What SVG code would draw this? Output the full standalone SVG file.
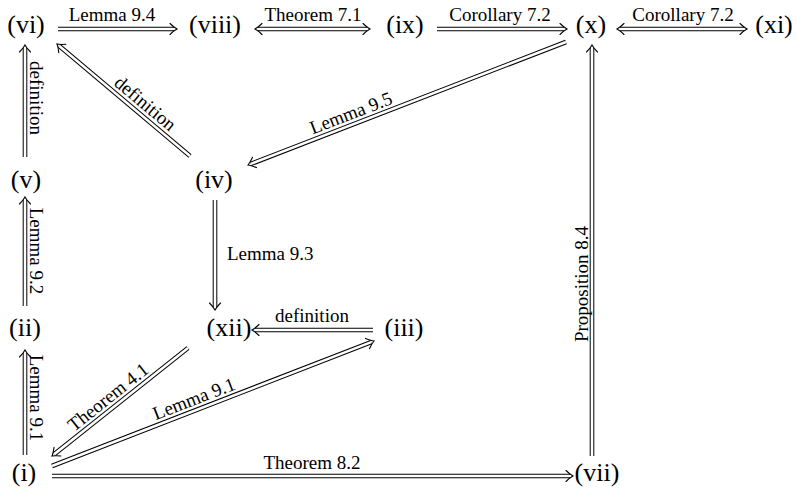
<svg xmlns="http://www.w3.org/2000/svg" xmlns:xlink="http://www.w3.org/1999/xlink" width="797" height="490" viewBox="0 0 797 490">
<style>
.nd{font-family:"Liberation Serif","Times New Roman",serif;font-size:26px;fill:#000;text-anchor:middle}
.lb{font-family:"Liberation Serif","Times New Roman",serif;font-size:19px;fill:#000;text-anchor:middle}
.sb{fill:none;stroke:#000;stroke-width:4.6}
.sw{fill:none;stroke:#fff;stroke-width:2.6}
.hd{fill:none;stroke:#000;stroke-width:1.1;stroke-linecap:round}
</style>
<defs>
<path id="ah" class="hd" d="M-7,-5.5 C-4,-2.6 -1.6,-0.8 0,0 C-1.6,0.8 -4,2.6 -7,5.5"/>
</defs>
<rect width="797" height="490" fill="#fff"/>
<g id="n-vi"><text class="nd" x="26" y="33">(vi)</text></g>
<g id="n-viii"><text class="nd" x="215" y="33">(viii)</text></g>
<g id="n-ix"><text class="nd" x="405" y="33">(ix)</text></g>
<g id="n-x"><text class="nd" x="591" y="33">(x)</text></g>
<g id="n-xi"><text class="nd" x="774" y="33">(xi)</text></g>
<g id="n-v"><text class="nd" x="26" y="188">(v)</text></g>
<g id="n-iv"><text class="nd" x="214" y="188">(iv)</text></g>
<g id="n-ii"><text class="nd" x="25" y="336">(ii)</text></g>
<g id="n-xii"><text class="nd" x="229" y="336">(xii)</text></g>
<g id="n-iii"><text class="nd" x="404" y="336">(iii)</text></g>
<g id="n-i"><text class="nd" x="24" y="481">(i)</text></g>
<g id="n-vii"><text class="nd" x="597" y="481">(vii)</text></g>
<g id="connectors">
<!-- vi -> viii -->
<g><path class="sb" d="M58,29H174"/><path class="sw" d="M58,29H174"/><use xlink:href="#ah" transform="translate(177,29)"/>
<text class="lb" x="112" y="21">Lemma 9.4</text></g>
<!-- viii <-> ix -->
<g><path class="sb" d="M258,29H367"/><path class="sw" d="M258,29H367"/><use xlink:href="#ah" transform="translate(370,29)"/><use xlink:href="#ah" transform="translate(255,29) rotate(180)"/>
<text class="lb" x="313" y="21">Theorem 7.1</text></g>
<!-- ix -> x -->
<g><path class="sb" d="M437,29H564"/><path class="sw" d="M437,29H564"/><use xlink:href="#ah" transform="translate(567,29)"/>
<text class="lb" x="500" y="21">Corollary 7.2</text></g>
<!-- x <-> xi -->
<g><path class="sb" d="M620,29H744"/><path class="sw" d="M620,29H744"/><use xlink:href="#ah" transform="translate(747,29)"/><use xlink:href="#ah" transform="translate(617,29) rotate(180)"/>
<text class="lb" x="683" y="21">Corollary 7.2</text></g>
<!-- x -> iv -->
<g><path class="sb" d="M566,42L250.8,163.9"/><path class="sw" d="M566,42L250.8,163.9"/><use xlink:href="#ah" transform="translate(248,165) rotate(158.86)"/>
<text class="lb" transform="translate(355,123.6) rotate(-21.14)" x="0" y="-5">Lemma 9.5</text></g>
<!-- iv -> vi -->
<g><path class="sb" d="M190,156L59.3,45.9"/><path class="sw" d="M190,156L59.3,45.9"/><use xlink:href="#ah" transform="translate(57,44) rotate(-139.9)"/>
<text class="lb" transform="translate(138,112) rotate(40.1)" x="0" y="-5">definition</text></g>
<!-- v -> vi -->
<g><path class="sb" d="M25,157V48"/><path class="sw" d="M25,157V48"/><use xlink:href="#ah" transform="translate(25,45) rotate(-90)"/>
<text class="lb" transform="translate(30,98) rotate(90)">definition</text></g>
<!-- ii -> v -->
<g><path class="sb" d="M25,306V200"/><path class="sw" d="M25,306V200"/><use xlink:href="#ah" transform="translate(25,197) rotate(-90)"/>
<text class="lb" transform="translate(30,251) rotate(90)">Lemma 9.2</text></g>
<!-- i -> ii -->
<g><path class="sb" d="M25,455V353"/><path class="sw" d="M25,455V353"/><use xlink:href="#ah" transform="translate(25,350) rotate(-90)"/>
<text class="lb" transform="translate(30,398) rotate(90)">Lemma 9.1</text></g>
<!-- iv -> xii -->
<g><path class="sb" d="M215,200V307"/><path class="sw" d="M215,200V307"/><use xlink:href="#ah" transform="translate(215,310) rotate(90)"/>
<text class="lb" x="227" y="260" style="text-anchor:start">Lemma 9.3</text></g>
<!-- iii -> xii -->
<g><path class="sb" d="M373,330H255"/><path class="sw" d="M373,330H255"/><use xlink:href="#ah" transform="translate(252,330) rotate(180)"/>
<text class="lb" x="312" y="322">definition</text></g>
<!-- xii -> i -->
<g><path class="sb" d="M188,348L54.35,454.13"/><path class="sw" d="M188,348L54.35,454.13"/><use xlink:href="#ah" transform="translate(52,456) rotate(141.55)"/>
<text class="lb" transform="translate(115,406) rotate(-38.45)" x="0" y="-5">Theorem 4.1</text></g>
<!-- i -> iii -->
<g><path class="sb" d="M52,466L371.2,342.1"/><path class="sw" d="M52,466L371.2,342.1"/><use xlink:href="#ah" transform="translate(374,341) rotate(-21.21)"/>
<text class="lb" transform="translate(198,409.3) rotate(-21.21)" x="0" y="-5">Lemma 9.1</text></g>
<!-- i -> vii -->
<g><path class="sb" d="M52,476H570"/><path class="sw" d="M52,476H570"/><use xlink:href="#ah" transform="translate(573,476)"/>
<text class="lb" x="312" y="469">Theorem 8.2</text></g>
<!-- vii -> x -->
<g><path class="sb" d="M592,456V48"/><path class="sw" d="M592,456V48"/><use xlink:href="#ah" transform="translate(592,45) rotate(-90)"/>
<text class="lb" transform="translate(588,284) rotate(-90)">Proposition 8.4</text></g>
</g>
</svg>
